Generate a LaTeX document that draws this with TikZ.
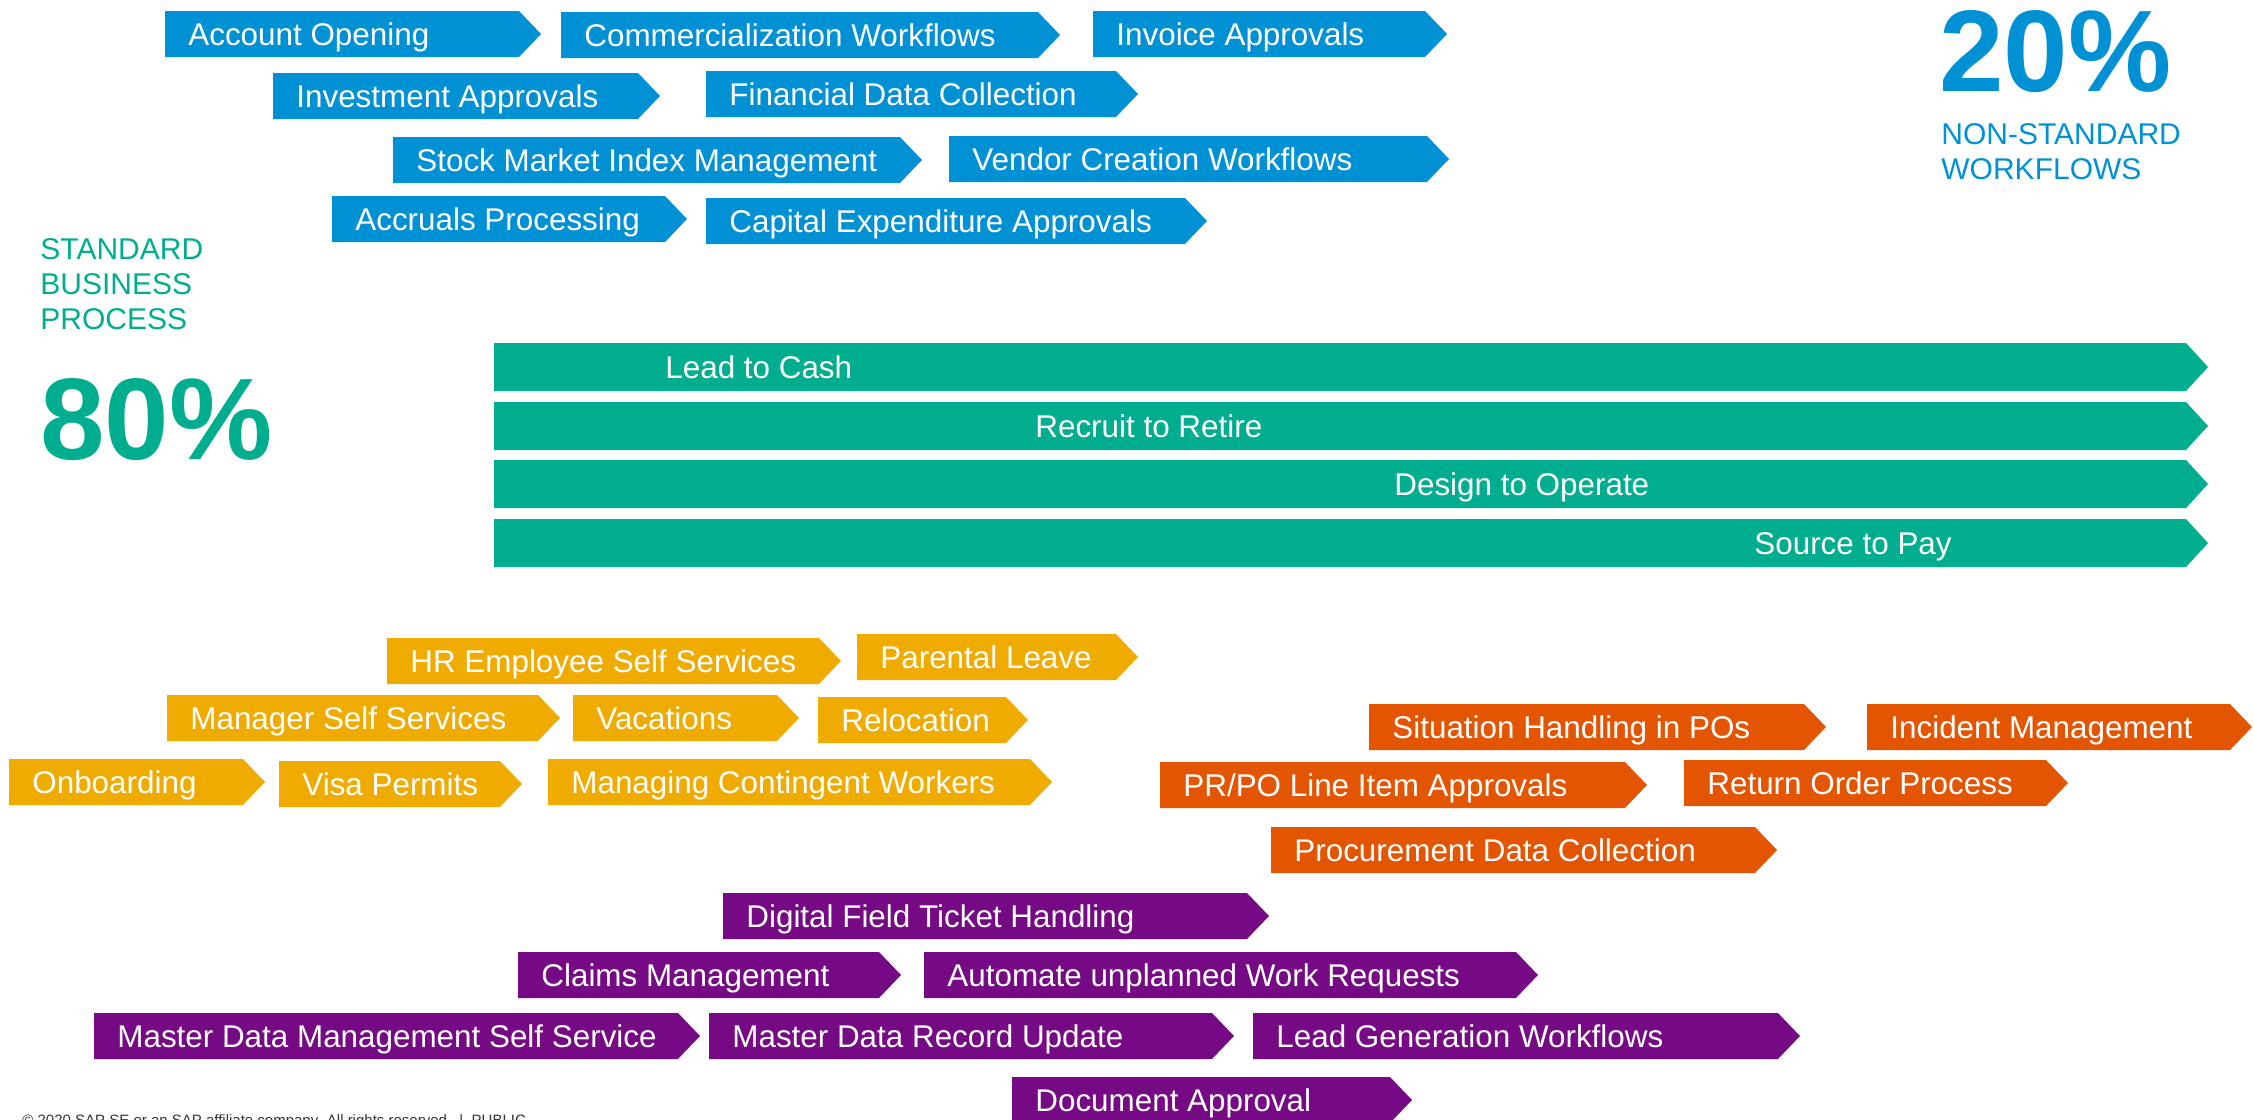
\documentclass[tikz,border=0pt]{standalone}
\usepackage{fontspec}
\setmainfont{Liberation Sans}
\definecolor{sapblue}{HTML}{0091D5}
\definecolor{sapgreen}{HTML}{00AD8F}
\definecolor{sapyellow}{HTML}{F0AB00}
\definecolor{saporange}{HTML}{E35500}
\definecolor{sappurple}{HTML}{760A85}
\newcommand{\flow}[7][46]{%
  \fill[#3] (#4,#5) -- ({#6-22},#5) -- (#6,{#5+#1/2}) -- ({#6-22},{#5+#1}) -- (#4,{#5+#1}) -- cycle;
  \node[flowtext] (#2) at ({#4+23},{#5+#1/2+11.5}) {#7};}
\newcommand{\procbar}[4]{%
  \fill[sapgreen] (494,#2) -- (2186,#2) -- (2208,{#2+24}) -- (2186,{#2+48}) -- (494,{#2+48}) -- cycle;
  \node[flowtext] (#1) at (#3,{#2+35.5}) {#4};}

\begin{document}
\begin{tikzpicture}[x=0.5pt,y=-0.5pt,
    flowtext/.style={anchor=base west,inner sep=0pt,text=white,font=\fontsize{15.7}{19}\selectfont},
    bignum/.style={anchor=base west,inner sep=0pt,font=\bfseries\fontsize{58}{60}\selectfont},
    caption/.style={anchor=north west,inner sep=0pt,align=left,font=\fontsize{15}{17.5}\selectfont}]
  \useasboundingbox (0,0) rectangle (2254,1119);

  % non-standard workflows
  \flow{acct}{sapblue}{165}{11}{541}{Account Opening}
  \flow{comm}{sapblue}{561}{12}{1060}{Commercialization Workflows}
  \flow{inv}{sapblue}{1093}{11}{1447}{Invoice Approvals}
  \flow{invest}{sapblue}{273}{73}{660}{Investment Approvals}
  \flow{findata}{sapblue}{706}{71}{1138}{Financial Data Collection}
  \flow{stock}{sapblue}{393}{137}{922}{Stock Market Index Management}
  \flow{vendor}{sapblue}{949}{136}{1449}{Vendor Creation Workflows}
  \flow{accr}{sapblue}{332}{196}{687}{Accruals Processing}
  \flow{capex}{sapblue}{706}{198}{1207}{Capital Expenditure Approvals}

  \node[bignum,text=sapblue] (nonstdpct) at (1939,91) {20\%};
  \node[caption,text=sapblue] (nonstd) at (1941,123) {NON-STANDARD\\WORKFLOWS};

  % standard business process
  \node[caption,text=sapgreen] (std) at (40,238) {STANDARD\\BUSINESS\\PROCESS};
  \node[bignum,text=sapgreen] (stdpct) at (40,459) {80\%};

  \procbar{leadcash}{343}{665}{Lead to Cash}
  \procbar{recruit}{402}{1035}{Recruit to Retire}
  \procbar{design}{460}{1394}{Design to Operate}
  \procbar{source}{519}{1754}{Source to Pay}

  \flow{hress}{sapyellow}{387}{638}{841}{HR Employee Self Services}
  \flow{parental}{sapyellow}{857}{634}{1138}{Parental Leave}
  \flow{mss}{sapyellow}{167}{695}{560}{Manager Self Services}
  \flow{vac}{sapyellow}{573}{695}{799}{Vacations}
  \flow{reloc}{sapyellow}{818}{697}{1028}{Relocation}
  \flow{onb}{sapyellow}{9}{759}{265}{Onboarding}
  \flow{visa}{sapyellow}{279}{761}{522}{Visa Permits}
  \flow{contingent}{sapyellow}{548}{759}{1052}{Managing Contingent Workers}

  \flow{situation}{saporange}{1369}{704}{1826}{Situation Handling in POs}
  \flow{incident}{saporange}{1867}{704}{2252}{Incident Management}
  \flow{prpo}{saporange}{1160}{762}{1647}{PR/PO Line Item Approvals}
  \flow{retorder}{saporange}{1684}{760}{2068}{Return Order Process}
  \flow{procdata}{saporange}{1271}{827}{1777}{Procurement Data Collection}

  \flow{fieldticket}{sappurple}{723}{893}{1269}{Digital Field Ticket Handling}
  \flow{claims}{sappurple}{518}{952}{901}{Claims Management}
  \flow{workreq}{sappurple}{924}{952}{1538}{Automate unplanned Work Requests}
  \flow{mdmss}{sappurple}{94}{1013}{700}{Master Data Management Self Service}
  \flow{mdrecord}{sappurple}{709}{1013}{1234}{Master Data Record Update}
  \flow{leadgen}{sappurple}{1253}{1013}{1800}{Lead Generation Workflows}
  \flow{docapp}{sappurple}{1012}{1077}{1412}{Document Approval}

  \node[anchor=base west,inner sep=0pt,text=black!80,font=\fontsize{7.5}{9}\selectfont] (footer) at (22,1125)
    {\textcopyright\ 2020 SAP SE or an SAP affiliate company. All rights reserved.\ \ |\ \ PUBLIC};
\end{tikzpicture}
\end{document}
